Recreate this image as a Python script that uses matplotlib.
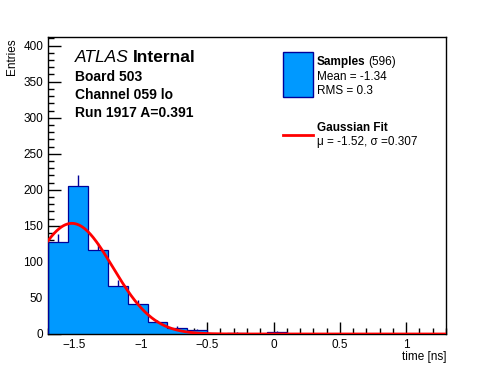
import numpy as np
import matplotlib
matplotlib.use("Agg")
import matplotlib.pyplot as plt
from matplotlib.patches import Rectangle
from matplotlib.lines import Line2D
from matplotlib.ticker import MultipleLocator

plt.rcParams['font.family'] = ['Liberation Sans', 'DejaVu Sans']

# histogram: bin edges and counts
bin_edges = np.round(np.arange(-1.7, 1.3001, 0.15), 3)
counts = [127, 206, 116, 67, 41, 16, 8, 5, 0, 2, 0, 3, 0, 0, 0, 0, 0, 0, 0, 0]

# gaussian fit parameters
fit_mu = -1.52
fit_sigma = 0.307
fit_amp = 153.5

n_entries = 596
mean_val = -1.34
rms_val = 0.3

fill_col = "#0099ff"
edge_col = "#000099"
W, H = 496, 372


def fx(px):
    return px / W


def fy(py):
    return 1 - py / H


fig = plt.figure(figsize=(4.96, 3.72), dpi=100)
ax = fig.add_axes([fx(48), fy(334), fx(446) - fx(48), fy(37) - fy(334)])

counts = np.array(counts, dtype=float)
centers = 0.5 * (bin_edges[:-1] + bin_edges[1:])
err = np.sqrt(counts)

# error bars behind the filled histogram
nz = counts > 0
ax.vlines(centers[nz], counts[nz] - err[nz], counts[nz] + err[nz],
          color=edge_col, lw=1, zorder=1)
ax.stairs(counts, bin_edges, fill=True, color=fill_col, zorder=2)
ax.stairs(counts, bin_edges, color=edge_col, lw=0.9, zorder=3)

xs = np.linspace(-1.7, 1.3, 600)
ax.plot(xs, fit_amp * np.exp(-0.5 * ((xs - fit_mu) / fit_sigma) ** 2),
        color="red", lw=2, zorder=4, clip_on=True)

ax.set_xlim(-1.7, 1.3)
ax.set_ylim(0, 412)
ax.xaxis.set_major_locator(MultipleLocator(0.5))
ax.xaxis.set_minor_locator(MultipleLocator(0.1))
ax.yaxis.set_major_locator(MultipleLocator(50))
ax.yaxis.set_minor_locator(MultipleLocator(10))
ax.tick_params(which='both', direction='in', top=False, right=False,
               labelsize=8.5, width=1)
ax.tick_params(which='major', length=9)
ax.tick_params(which='minor', length=4.5)
for s in ax.spines.values():
    s.set_linewidth(1)

ax.set_xticklabels([])
for v in np.arange(-1.5, 1.01, 0.5):
    lab = "0" if abs(v) < 1e-9 else ("%g" % v).replace("-", "\u2212")
    ax.text(v, -0.017, lab, transform=ax.get_xaxis_transform(),
            ha='center', va='top', fontsize=8.5)

fig.text(fx(446), fy(357), "time [ns]", ha='right', va='center', fontsize=8.5)
fig.text(fx(12), fy(38), "Entries", ha='center', va='top', rotation=90,
         fontsize=8.5)

# ATLAS label
t = fig.text(fx(75), fy(58), "ATLAS", style='italic', fontsize=12.5,
             va='center', ha='left')
fig.canvas.draw()
bb = t.get_window_extent()
fig.text(bb.x1 / W + fx(4), fy(58), "Internal", fontweight='bold',
         fontsize=12.5, va='center', ha='left')
fig.text(fx(75), fy(77), "Board 503", fontweight='bold', fontsize=10, va='center')
fig.text(fx(75), fy(95), "Channel 059 lo", fontweight='bold', fontsize=10, va='center')
fig.text(fx(75), fy(113), "Run 1917 A=0.391", fontweight='bold', fontsize=10, va='center')

# legend
fig.add_artist(Rectangle((fx(283), fy(97)), fx(313) - fx(283), fy(52) - fy(97),
                         transform=fig.transFigure, facecolor=fill_col,
                         edgecolor=edge_col, lw=1))
t2 = fig.text(fx(317), fy(62), "Samples", fontweight='bold', fontsize=8.5, va='center')
fig.canvas.draw()
bb2 = t2.get_window_extent()
fig.text(bb2.x1 / W + fx(3), fy(62), "(%d)" % n_entries, fontsize=8.5, va='center')
fig.text(fx(317), fy(77), "Mean = %.2f" % mean_val, fontsize=8.5, va='center')
fig.text(fx(317), fy(91), "RMS = %g" % rms_val, fontsize=8.5, va='center')

fig.add_artist(Line2D([fx(283), fx(313)], [fy(135), fy(135)],
                      transform=fig.transFigure, color='red', lw=2))
fig.text(fx(317), fy(128), "Gaussian Fit", fontweight='bold', fontsize=8.5, va='center')
fig.text(fx(317), fy(142), "\u03bc = %.2f, \u03c3 =%.3f" % (fit_mu, fit_sigma),
         fontsize=8.5, va='center')

fig.savefig("out.png", dpi=100)
